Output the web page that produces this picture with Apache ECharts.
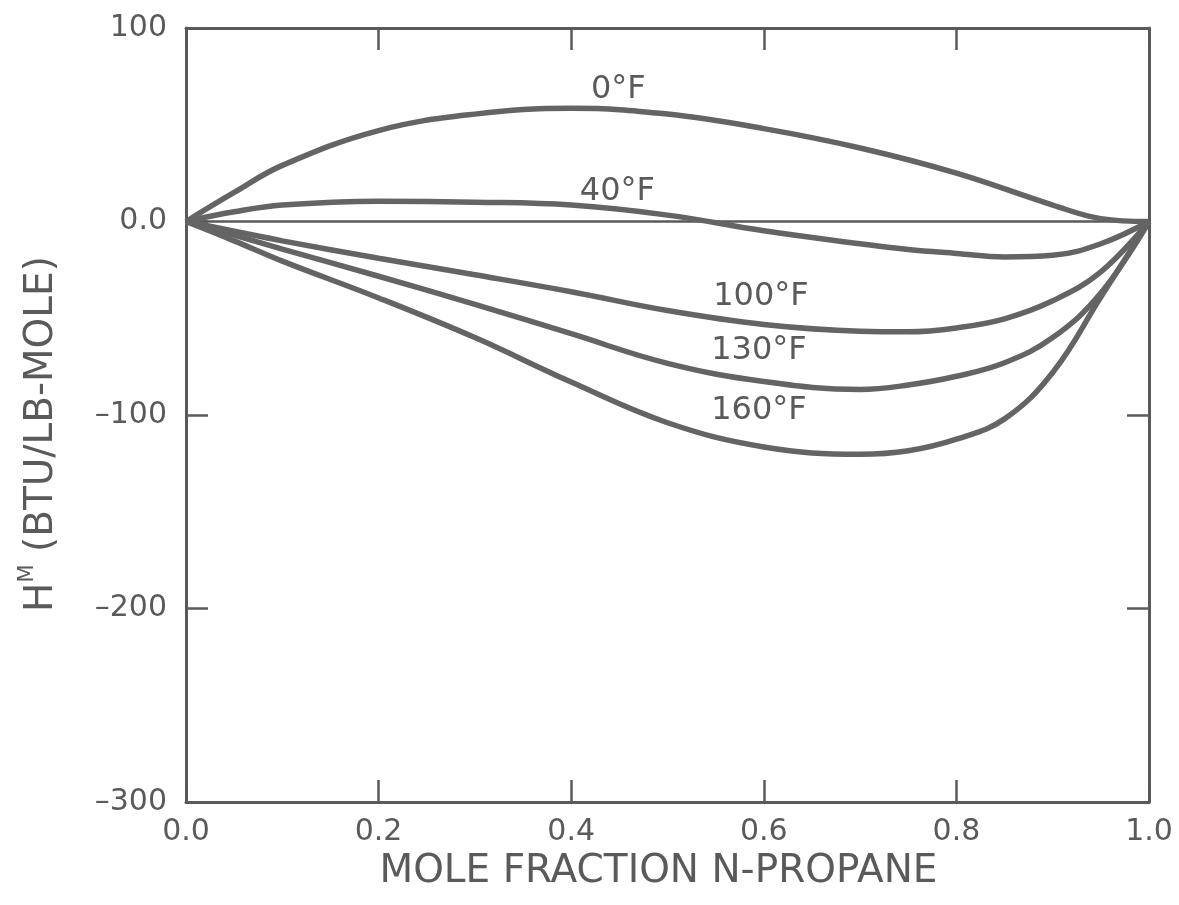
<!DOCTYPE html>
<html>
<head>
<meta charset="utf-8">
<title>Heat of mixing, n-propane</title>
<script src="https://cdn.jsdelivr.net/npm/echarts@6/dist/echarts.min.js"></script>
<style>
  html, body { margin: 0; padding: 0; background: #ffffff; }
  #chart { width: 1179px; height: 905px; }
</style>
</head>
<body>
<div id="chart"></div>
<script>
// Excess enthalpy H^M (BTU/lb-mole) vs. mole fraction n-propane, one curve per temperature
const molFrac0F   = [0, 0.05, 0.1, 0.2, 0.3, 0.4, 0.5, 0.6, 0.7, 0.8, 0.9, 0.95, 1.0];
const hm0F        = [0, 15, 29, 47, 55.5, 58.5, 55.5, 48, 38, 25, 8.5, 1.5, 0];

const molFrac40F  = [0, 0.05, 0.1, 0.2, 0.3, 0.4, 0.5, 0.6, 0.7, 0.75, 0.8, 0.85, 0.9, 0.95, 1.0];
const hm40F       = [0, 5, 8.5, 10.5, 10, 8.5, 3.3, -4.8, -11.5, -14.5, -16.5, -18.3, -17.5, -11.5, 0];

const molFrac100F = [0, 0.05, 0.1, 0.2, 0.3, 0.4, 0.5, 0.6, 0.7, 0.75, 0.8, 0.85, 0.9, 0.95, 1.0];
const hm100F      = [0, -5, -10, -19, -27.5, -36.3, -46, -53.2, -56.7, -57, -55, -50.3, -41, -26, 0];

const molFrac130F = [0, 0.05, 0.1, 0.2, 0.3, 0.4, 0.5, 0.6, 0.7, 0.75, 0.8, 0.85, 0.9, 0.95, 1.0];
const hm130F      = [0, -7, -14.3, -28.3, -42.8, -58, -73.3, -82.7, -86.8, -84.5, -80, -73, -60, -37, 0];

const molFrac160F = [0, 0.05, 0.1, 0.2, 0.3, 0.4, 0.5, 0.6, 0.7, 0.75, 0.8, 0.85, 0.9, 0.95, 1.0];
const hm160F      = [0, -10, -20.5, -39.5, -60, -83, -104, -116.5, -120.3, -118.5, -112.5, -102, -78, -39, 0];

// Zero reference line across the full composition range
const zeroLineX = [0, 1];
const zeroLineY = [0, 0];

// Curve names and where each name sits (data coordinates)
const curveNames  = ['0°F', '40°F', '100°F', '130°F', '160°F'];
const curveLabelX = [0.449, 0.448, 0.597, 0.595, 0.595];
const curveLabelY = [68.2, 15.5, -38.8, -67, -98];

// Tick labels
const xTickValues = [0, 0.2, 0.4, 0.6, 0.8, 1.0];
const xTickLabels = ['0.0', '0.2', '0.4', '0.6', '0.8', '1.0'];
const yTickValues = [-300, -200, -100, 0, 100];
const yTickLabels = ['\u2013300', '\u2013200', '\u2013100', '0.0', '100'];

const xTitle = 'MOLE FRACTION N-PROPANE';

const INK = '#5a5a5a';
const FONT = 'DejaVu Sans';

const zip = (xs, ys) => xs.map((x, i) => [x, ys[i]]);

function xLabel(v) {
  const i = xTickValues.findIndex(t => Math.abs(t - v) < 1e-6);
  return i >= 0 ? xTickLabels[i] : '';
}
function yLabel(v) {
  const i = yTickValues.findIndex(t => Math.abs(t - v) < 1e-6);
  return i >= 0 ? yTickLabels[i] : '';
}

const curves = [
  [molFrac0F, hm0F],
  [molFrac40F, hm40F],
  [molFrac100F, hm100F],
  [molFrac130F, hm130F],
  [molFrac160F, hm160F]
];

const frameAxisLine = { show: true, onZero: false, lineStyle: { color: INK, width: 3 } };
const frameTick = { show: true, inside: true, length: 22, lineStyle: { color: INK, width: 2.5 } };

const chart = echarts.init(document.getElementById('chart'), null, { renderer: 'canvas' });

const option = {
  backgroundColor: '#ffffff',
  animation: false,
  grid: { left: 186, right: 30, top: 28, bottom: 103, containLabel: false },
  xAxis: [
    {
      type: 'value', position: 'bottom', min: 0, max: 1, interval: 0.2,
      axisLine: frameAxisLine, axisTick: frameTick, splitLine: { show: false },
      axisLabel: { formatter: xLabel, color: INK, fontFamily: FONT, fontSize: 30, margin: 15 },
      name: xTitle, nameLocation: 'middle', nameGap: 40,
      nameTextStyle: { color: INK, fontFamily: FONT, fontSize: 39, padding: [0, 18, 0, 0] }
    },
    {
      type: 'value', position: 'top', min: 0, max: 1, interval: 0.2,
      axisLine: frameAxisLine, axisTick: frameTick, splitLine: { show: false },
      axisLabel: { show: false }
    }
  ],
  yAxis: [
    {
      type: 'value', position: 'left', min: -300, max: 100, interval: 100,
      axisLine: frameAxisLine, axisTick: frameTick, splitLine: { show: false },
      axisLabel: { formatter: yLabel, color: INK, fontFamily: FONT, fontSize: 30, margin: 19 }
    },
    {
      type: 'value', position: 'right', min: -300, max: 100, interval: 100,
      axisLine: frameAxisLine, axisTick: frameTick, splitLine: { show: false },
      axisLabel: { show: false }
    }
  ],
  graphic: [
    {
      type: 'text',
      x: 39, y: 434,
      rotation: Math.PI / 2,
      style: {
        text: '{h|H}{sup|M}{t| (BTU/LB-MOLE)}',
        align: 'center',
        verticalAlign: 'middle',
        fill: INK,
        rich: {
          h:   { fontFamily: FONT, fontSize: 39, lineHeight: 44, fill: INK, verticalAlign: 'bottom' },
          sup: { fontFamily: FONT, fontSize: 21, lineHeight: 44, fill: INK, verticalAlign: 'top', padding: [0, 0, 16, 0] },
          t:   { fontFamily: FONT, fontSize: 39, lineHeight: 44, fill: INK, verticalAlign: 'bottom' }
        }
      }
    }
  ],
  series: [
    {
      name: 'zero',
      type: 'line',
      data: zip(zeroLineX, zeroLineY),
      symbol: 'none',
      lineStyle: { color: INK, width: 2.6 },
      silent: true,
      z: 1
    },
    ...curves.map((c, i) => ({
      name: curveNames[i],
      type: 'line',
      data: zip(c[0], c[1]),
      smooth: 0.4,
      symbol: 'none',
      lineStyle: { color: '#646464', width: 5.5 },
      z: 2
    })),
    {
      name: 'curve labels',
      type: 'scatter',
      data: curveNames.map((n, i) => [curveLabelX[i], curveLabelY[i], n]),
      symbolSize: 1,
      itemStyle: { opacity: 0 },
      silent: true,
      label: {
        show: true,
        position: 'inside',
        formatter: p => p.value[2],
        color: INK,
        opacity: 1,
        fontFamily: FONT,
        fontSize: 32
      },
      z: 3
    }
  ]
};

chart.setOption(option);
</script>
</body>
</html>
